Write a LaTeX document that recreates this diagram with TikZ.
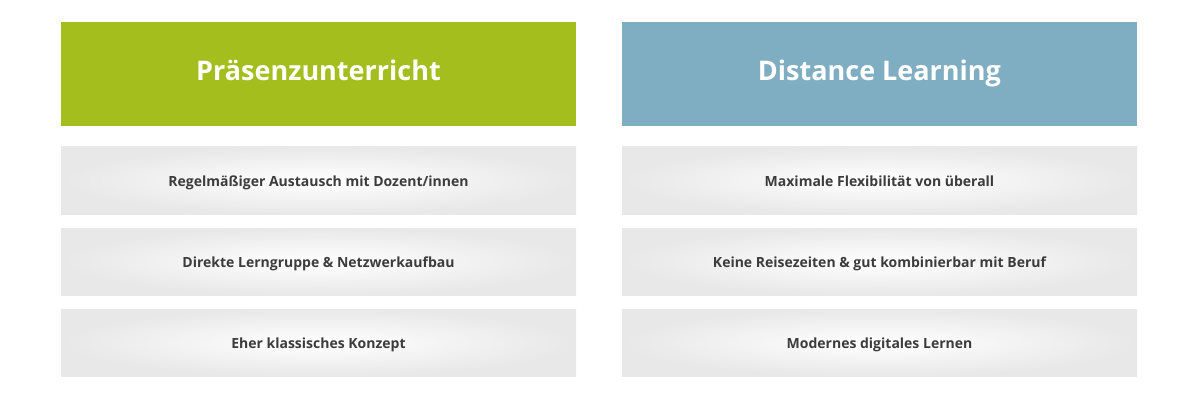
\documentclass[tikz,border=0pt]{standalone}
\usepackage{fontspec}
\setmainfont{Open Sans}
\usetikzlibrary{positioning}
\definecolor{headgreen}{HTML}{A4BE1E}
\definecolor{headblue}{HTML}{7FAEC3}
\definecolor{rowgray}{HTML}{E8E8E8}
\definecolor{textgray}{HTML}{3C3C3C}
\begin{document}
\begin{tikzpicture}[
        head/.style = {
            fill = #1,
            minimum width = 257.5pt,
            minimum height = 52pt,
            inner sep = 0pt,
            outer sep = 0pt,
            text height = 1.6ex,
            text depth = .4ex,
            text = white,
            font = \fontsize{13.5}{16}\selectfont\bfseries
        },
        row/.style = {
            inner color = white,
            outer color = rowgray,
            minimum width = 257.5pt,
            minimum height = 33.5pt,
            inner sep = 0pt,
            outer sep = 0pt,
            text height = 1.6ex,
            text depth = .4ex,
            text = textgray,
            font = \fontsize{7}{9}\selectfont\bfseries
        },
        node distance = {7pt and 23pt}
        ]
%
        \useasboundingbox (0,0) rectangle (600pt,-200.5pt);
%
        \node[head=headgreen] (P) at (159.25pt,-37pt) {Präsenzunterricht};
        \node[head=headblue, right=23pt of P] (D) {Distance Learning};
%
        \node[row, below=10.5pt of P] (P1) {Regelmäßiger Austausch mit Dozent/innen};
        \node[row, below=of P1] (P2) {Direkte Lerngruppe \& Netzwerkaufbau};
        \node[row, below=of P2] (P3) {Eher klassisches Konzept};
%
        \node[row, below=10.5pt of D] (D1) {Maximale Flexibilität von überall};
        \node[row, below=of D1] (D2) {Keine Reisezeiten \& gut kombinierbar mit Beruf};
        \node[row, below=of D2] (D3) {Modernes digitales Lernen};
%
    \end{tikzpicture}
\end{document}
